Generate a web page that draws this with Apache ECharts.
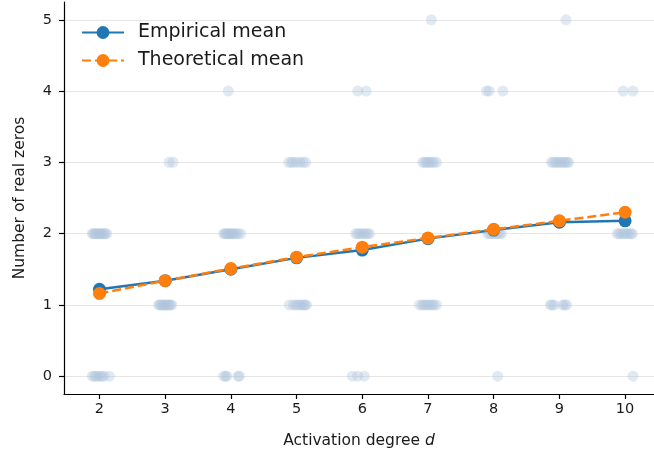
<!DOCTYPE html>
<html>
<head>
<meta charset="utf-8">
<script src="https://cdn.jsdelivr.net/npm/echarts@6/dist/echarts.min.js"></script>
<style>
  html, body { margin: 0; padding: 0; background: #fff; }
  #chart { width: 654px; height: 458px; }
</style>
</head>
<body>
<div id="chart"></div>
<script>
// degrees on the x axis
const degrees = [2, 3, 4, 5, 6, 7, 8, 9, 10]
const yTicks = [0, 1, 2, 3, 4, 5]

// mean number of real zeros per degree
const empiricalMean = [1.22, 1.34, 1.50, 1.66, 1.77, 1.93, 2.05, 2.16, 2.18]
const theoreticalMean = [1.16, 1.34, 1.51, 1.67, 1.81, 1.94, 2.06, 2.18, 2.30]

// jittered samples [x, zeros] for each degree
const zerosD2 = [
  [1.89, 2], [1.91, 2], [1.93, 2], [1.95, 2], [1.97, 2], [1.99, 2], [2.01, 2], [2.03, 2], [2.05, 2], [2.07, 2], [2.09, 2], [2.11, 2],
  [1.89, 0], [1.92, 0], [1.95, 0], [1.98, 0], [2.01, 0], [2.04, 0], [2.07, 0], [2.15, 0]
]
const zerosD3 = [
  [3.06, 3], [3.12, 3],
  [2.90, 1], [2.92, 1], [2.94, 1], [2.96, 1], [2.98, 1], [3.00, 1], [3.02, 1], [3.04, 1], [3.06, 1], [3.08, 1], [3.10, 1]
]
const zerosD4 = [
  [3.96, 4],
  [3.89, 2], [3.91, 2], [3.93, 2], [3.95, 2], [3.97, 2], [3.99, 2], [4.01, 2], [4.03, 2], [4.05, 2], [4.08, 2], [4.11, 2], [4.15, 2],
  [3.89, 0], [3.92, 0], [3.94, 0], [4.11, 0], [4.13, 0]
]
const zerosD5 = [
  [4.88, 3], [4.92, 3], [4.95, 3], [5.00, 3], [5.05, 3], [5.10, 3], [5.14, 3],
  [4.89, 1], [4.95, 1], [4.99, 1], [5.02, 1], [5.05, 1], [5.08, 1], [5.11, 1], [5.13, 1], [5.15, 1]
]
const zerosD6 = [
  [5.93, 4], [6.06, 4],
  [5.90, 2], [5.93, 2], [5.96, 2], [5.99, 2], [6.02, 2], [6.05, 2], [6.08, 2], [6.11, 2],
  [5.85, 0], [5.93, 0], [6.03, 0]
]
const zerosD7 = [
  [7.05, 5],
  [6.92, 3], [6.95, 3], [6.98, 3], [7.00, 3], [7.03, 3], [7.06, 3], [7.09, 3], [7.13, 3],
  [6.87, 1], [6.91, 1], [6.94, 1], [6.97, 1], [7.00, 1], [7.03, 1], [7.06, 1], [7.09, 1], [7.13, 1]
]
const zerosD8 = [
  [7.89, 4], [7.93, 4], [8.14, 4],
  [7.91, 2], [7.94, 2], [7.97, 2], [8.00, 2], [8.03, 2], [8.06, 2], [8.09, 2], [8.12, 2],
  [8.06, 0]
]
const zerosD9 = [
  [9.10, 5],
  [8.88, 3], [8.91, 3], [8.94, 3], [8.97, 3], [9.00, 3], [9.03, 3], [9.06, 3], [9.09, 3], [9.12, 3], [9.14, 3],
  [8.86, 1], [8.89, 1], [8.92, 1], [9.05, 1], [9.08, 1], [9.11, 1]
]
const zerosD10 = [
  [9.97, 4], [10.12, 4],
  [9.88, 2], [9.91, 2], [9.94, 2], [9.97, 2], [10.00, 2], [10.03, 2], [10.06, 2], [10.09, 2], [10.11, 2],
  [10.12, 0]
]

const samples = [].concat(zerosD2, zerosD3, zerosD4, zerosD5, zerosD6, zerosD7, zerosD8, zerosD9, zerosD10)

const FONT = 'DejaVu Sans'
const TEXT = '#1a1a1a'
const chart = echarts.init(document.getElementById('chart'))

// shared axis look
const axisCommon = {
  axisLine: { show: true, onZero: false, lineStyle: { color: '#000', width: 1.2 } },
  axisTick: { show: true, length: 5, lineStyle: { color: '#000', width: 1.2 } },
  axisLabel: { color: TEXT, fontSize: 14.5, fontFamily: FONT },
  nameTextStyle: { color: TEXT, fontSize: 15.5, fontFamily: FONT }
}

const option = {
  animation: false,
  backgroundColor: '#fff',
  grid: { left: 64, right: 0, top: 2, bottom: 64 },
  legend: {
    orient: 'vertical',
    left: 76,
    top: 18,
    itemWidth: 42,
    itemHeight: 16,
    itemGap: 9,
    textStyle: { fontSize: 19, lineHeight: 19, fontFamily: FONT, color: TEXT, padding: [0, 0, 0, 9] },
    data: ['Empirical mean', 'Theoretical mean']
  },
  xAxis: {
    type: 'value',
    min: 1.46,
    max: 10.44,
    ...axisCommon,
    axisTick: { ...axisCommon.axisTick, customValues: degrees },
    axisLabel: { ...axisCommon.axisLabel, margin: 8, customValues: degrees },
    splitLine: { show: false },
    name: 'Activation degree {i|d}',
    nameLocation: 'middle',
    nameGap: 39,
    nameTextStyle: {
      ...axisCommon.nameTextStyle,
      rich: { i: { fontStyle: 'italic', fontSize: 15.5, fontFamily: FONT, color: TEXT } }
    }
  },
  yAxis: {
    type: 'value',
    min: -0.25,
    max: 5.25,
    ...axisCommon,
    axisTick: { ...axisCommon.axisTick, customValues: yTicks },
    axisLabel: { ...axisCommon.axisLabel, margin: 12, customValues: yTicks },
    splitLine: { show: true, lineStyle: { color: '#e6e6e6', width: 1.2 } },
    name: 'Number of real zeros',
    nameLocation: 'middle',
    nameGap: 36
  },
  series: [
    {
      name: 'samples',
      type: 'scatter',
      data: samples,
      symbolSize: 11,
      itemStyle: { color: '#b0c4de', opacity: 0.38 },
      z: 1
    },
    {
      name: 'Empirical mean',
      type: 'line',
      data: degrees.map((d, i) => [d, empiricalMean[i]]),
      symbol: 'circle',
      symbolSize: 13,
      lineStyle: { color: '#1f77b4', width: 2.5 },
      itemStyle: { color: '#1f77b4' },
      z: 3
    },
    {
      name: 'Theoretical mean',
      type: 'line',
      data: degrees.map((d, i) => [d, theoreticalMean[i]]),
      symbol: 'circle',
      symbolSize: 13,
      lineStyle: { color: '#ff7f0e', width: 2.5, type: [9, 4] },
      itemStyle: { color: '#ff7f0e' },
      z: 4
    }
  ]
}

chart.setOption(option)
</script>
</body>
</html>
